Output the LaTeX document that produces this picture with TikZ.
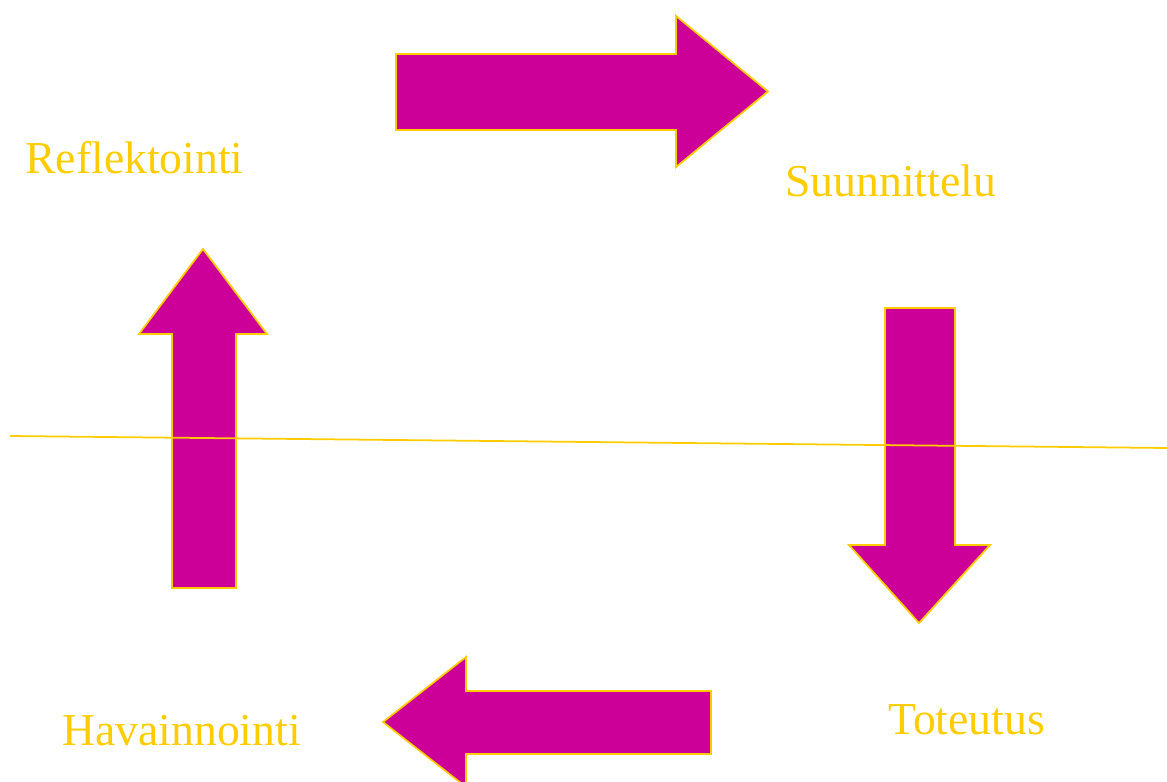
\documentclass[tikz,border=0pt]{standalone}
\usepackage{fontspec}
\setmainfont{Liberation Serif}
\usetikzlibrary{positioning}
\definecolor{arrowfill}{HTML}{CC0099}
\definecolor{cyclegold}{HTML}{FFCC00}
\tikzset{
  blockarrow/.style={draw=cyclegold,line width=1pt,fill=arrowfill,line join=miter},
  phase/.style={text=cyclegold,inner sep=0pt,anchor=base west,font=\fontsize{26}{30}\selectfont}
}
\begin{document}
\begin{tikzpicture}
            \useasboundingbox (0,0) rectangle (23.34,-15.64);
            % vaiheet
            \node[phase] (reflektointi) at (0.50,-3.46) {Reflektointi};
            \node[phase] (suunnittelu) at (15.70,-3.92) {Suunnittelu};
            \node[phase] (toteutus) at (17.76,-14.68) {Toteutus};
            \node[phase] (havainnointi) at (1.24,-14.90) {Havainnointi};
            % nuolet
            \draw[blockarrow] (7.92,-1.08)--(13.52,-1.08)--(13.52,-0.32)--(15.36,-1.83)--(13.52,-3.34)--(13.52,-2.60)--(7.92,-2.60)--cycle;
            \draw[blockarrow] (17.70,-6.16)--(19.10,-6.16)--(19.10,-10.90)--(19.80,-10.90)--(18.38,-12.46)--(16.98,-10.90)--(17.70,-10.90)--cycle;
            \draw[blockarrow] (14.22,-13.82)--(9.32,-13.82)--(9.32,-13.14)--(7.66,-14.44)--(9.32,-15.74)--(9.32,-15.08)--(14.22,-15.08)--cycle;
            \draw[blockarrow] (3.44,-11.76)--(3.44,-6.68)--(2.78,-6.68)--(4.06,-4.98)--(5.34,-6.68)--(4.72,-6.68)--(4.72,-11.76)--cycle;
            % viiva
            \coordinate (vasen) at (0.20,-8.72);
            \coordinate (oikea) at (23.34,-8.96);
            \draw[cyclegold,line width=1pt] (vasen)--(oikea);
\end{tikzpicture}
\end{document}
